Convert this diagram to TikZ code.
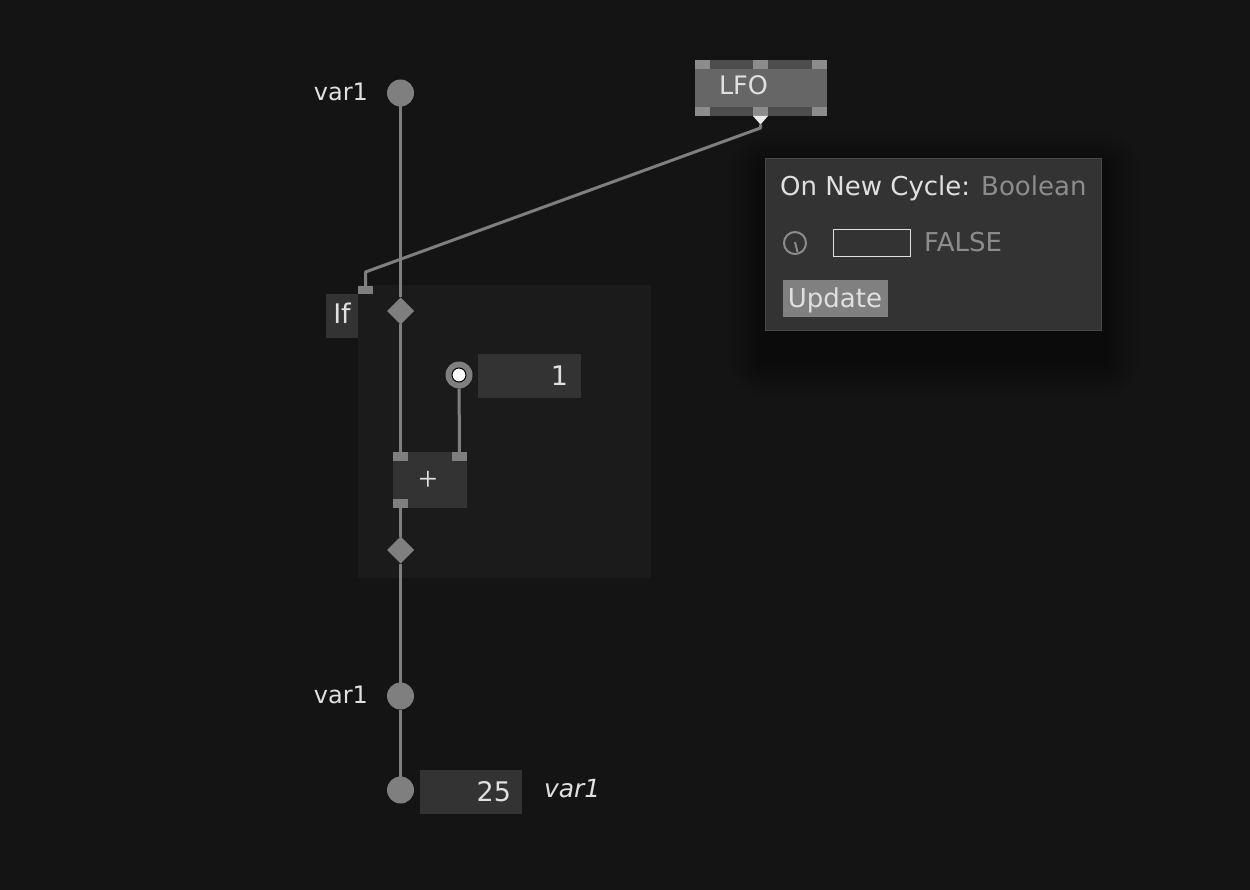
\documentclass[tikz,border=0pt]{standalone}
\usepackage{fontspec}
\setmainfont{DejaVu Sans}
\newfontfamily\plusfont{Liberation Serif}
\usetikzlibrary{shapes.geometric,calc}
\definecolor{bgc}{HTML}{141414}
\definecolor{regionc}{HTML}{1B1B1B}
\definecolor{boxc}{HTML}{333333}
\definecolor{pinc}{HTML}{7F7F7F}
\definecolor{linec}{HTML}{7F7F7F}
\definecolor{txtc}{HTML}{E0E0E0}
\definecolor{dimc}{HTML}{8C8C8C}
\newcommand{\fs}[1]{\fontsize{#1}{#1}\selectfont}
\tikzset{
 x=1pt,y=-1pt,
 flat/.style={rectangle,inner sep=0pt,outer sep=0pt,draw=none},
 darkbox/.style={flat,fill=boxc},
 pin/.style={flat,fill=pinc,minimum width=15pt,minimum height=9pt},
 lfopin/.style={flat,fill=pinc!90!white,minimum width=15pt,minimum height=9pt},
 iobox/.style={circle,inner sep=0pt,outer sep=0pt,fill=linec,minimum size=27pt},
 diam/.style={diamond,aspect=1,inner sep=0pt,outer sep=0pt,fill=linec,minimum size=27pt},
 lbl/.style={inner sep=0pt,outer sep=0pt,text=txtc,font=\fs{24}},
 wire/.style={draw=linec,line width=3pt},
}
\begin{document}
\begin{tikzpicture}
\useasboundingbox (0,0) rectangle (1250,890);
\fill[bgc] (0,0) rectangle (1250,890);
% tooltip soft shadow
\foreach \g in {36,32,28,24,20,16,12,8,4}{\fill[black,opacity=0.012,rounded corners=\g pt] (765-\g,158-\g+10) rectangle (1102+\g,331+\g+30);}
% subregion
\node[flat,fill=regionc,minimum width=293pt,minimum height=293pt] (region) at (504.5,431.5) {};
% var1 top
\node[iobox] (vtop) at (400.5,93) {};
\node[lbl,anchor=east] (vtoplbl) at (368,92) {var1};
% If
\node[darkbox,minimum width=32pt,minimum height=44pt] (ifbox) at (342,316) {};
\node[lbl,font=\fs{27}] (iflbl) at (342,313) {If};
\node[pin,minimum height=8pt] (ifpin) at (365.5,290) {};
\node[diam] (d1) at (400.5,311) {};
% const
\node[iobox] (cst) at (459,375) {};
\node[circle,fill=white,draw=black,line width=1pt,minimum size=14pt,inner sep=0pt] (cstdot) at (459,375) {};
\node[darkbox,minimum width=103pt,minimum height=44pt] (cstbox) at (529.5,376) {};
\node[lbl,anchor=east,font=\fs{27}] (cstval) at (568,376) {1};
% plus
\node[darkbox,minimum width=74pt,minimum height=56pt] (plus) at (430,480) {};
\node[text=txtc,inner sep=0pt,font=\plusfont\fs{34}] (plustxt) at (428,481) {+};
\node[pin] (pin1) at (400.5,456.5) {};
\node[pin] (pin2) at (459.5,456.5) {};
\node[pin] (pin3) at (400.5,503.5) {};
\node[diam] (d2) at (400.5,550) {};
% var1 lower
\node[iobox] (vmid) at (400.5,696) {};
\node[lbl,anchor=east] (vmidlbl) at (368,695) {var1};
\node[iobox] (vbot) at (400.5,790) {};
\node[darkbox,minimum width=102pt,minimum height=44pt] (vbox) at (471,792) {};
\node[lbl,anchor=east,font=\fs{27}] (vval) at (511,792) {25};
\node[lbl,anchor=west,font=\fs{25}\itshape] (vname) at (544,789) {var1};
% LFO
\node[flat,fill=black!60!white,minimum width=132pt,minimum height=56pt] (lfo) at (761,88) {};
\node[flat,fill=black!70!white,minimum width=132pt,minimum height=9pt] (lfotop) at (761,64.5) {};
\node[flat,fill=black!70!white,minimum width=132pt,minimum height=9pt] (lfobot) at (761,111.5) {};
\foreach \n/\px in {a/702.5,b/760.5,c/819.5}{
  \node[lfopin] (lt\n) at (\px,64.5) {};
  \node[lfopin] (lb\n) at (\px,111.5) {};
}
\node[lbl,font=\fs{25.5}] (lfotxt) at (743.5,85.5) {LFO};
\coordinate (tipc) at (760.5,124.5);
% wires
\draw[wire] (vtop) -- (d1);
\draw[wire] (d1) -- (pin1);
\draw[wire] (cst) -- (pin2);
\draw[wire] (pin3) -- (d2);
\draw[wire] (d2) -- (vmid);
\draw[wire] (vmid) -- (vbot);
\coordinate (bend1) at ($(lbb.south)+(0,12)$);
\coordinate (bend2) at ($(ifpin.north)+(0,-14)$);
\draw[wire,line join=round] (tipc) -- (bend1) -- (bend2) -- (ifpin.north);
\fill[white!92!black] (753,116) -- (768,116) -- (tipc) -- cycle;
% tooltip
\node[flat,fill=boxc,draw=black!72!white,line width=1pt,minimum width=336pt,minimum height=172pt] (tip) at (933.5,244.5) {};
\node[inner sep=0pt,anchor=base west,font=\fs{26},text=txtc] (tiptxt) at (780,196) {On New Cycle: \textcolor{dimc}{Boolean}};
\node[circle,draw=dimc,line width=2pt,minimum size=22pt,inner sep=0pt] (knob) at (795,243) {};
\draw[dimc,line width=2pt] ($(knob.center)+(0,-1)$) -- ($(knob.center)+(2.5,9)$);
\node[flat,draw=txtc,line width=1pt,fill=boxc,minimum width=77pt,minimum height=27pt] (field) at (872,243) {};
\node[inner sep=0pt,anchor=base west,font=\fs{26},text=dimc] (falsetxt) at (924,252) {FALSE};
\node[flat,fill=black!50!white,text=txtc,minimum width=105pt,minimum height=37pt] (upd) at (835.5,299) {};
\node[inner sep=0pt,anchor=base,font=\fs{26},text=txtc] (updtxt) at (835,308) {Update};
\end{tikzpicture}
\end{document}
